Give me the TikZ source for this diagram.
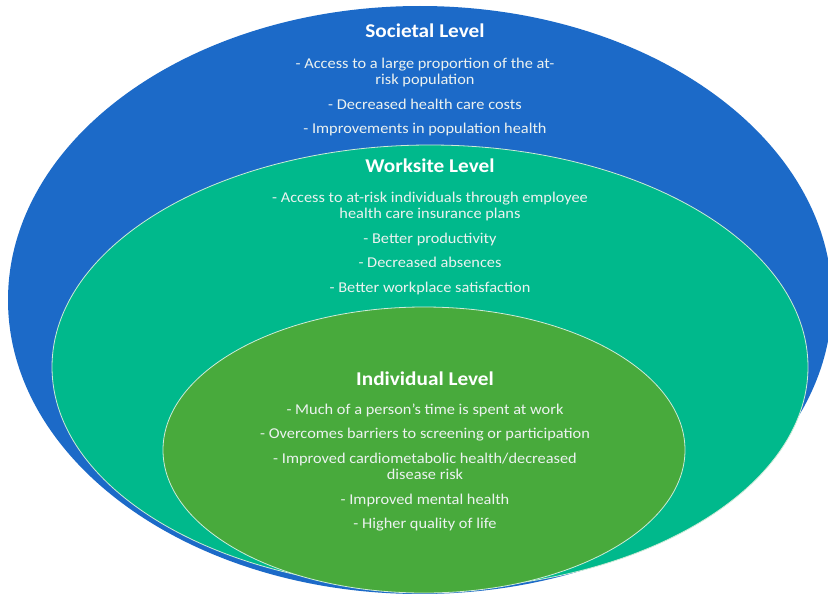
\documentclass[tikz,border=0pt]{standalone}
\usepackage{fontspec}
\setmainfont{Carlito}[FakeStretch=1.09]
\usetikzlibrary{positioning}

\definecolor{societal}{RGB}{28,106,200}
\definecolor{worksite}{RGB}{0,185,140}
\definecolor{individual}{RGB}{72,170,60}
\definecolor{rim}{RGB}{205,235,215}
\definecolor{itemtext}{RGB}{236,242,240}

\begin{document}
\begin{tikzpicture}[x=1pt, y=-1pt,
    level/.style = {inner sep=0pt, text=white, font=\fontsize{19.5}{23}\selectfont\bfseries},
    items/.style = {inner sep=0pt, align=center, text=itemtext, font=\fontsize{15}{16.5}\selectfont}]
    \useasboundingbox (0,0) rectangle (828,594);
    \fill[white] (0,0) rectangle (828,594);

    % the three nested levels
    \fill[societal] (420,300) ellipse [x radius=412, y radius=294];
    \filldraw[fill=worksite, draw=rim, line width=0.8pt] (430,367) ellipse [x radius=378, y radius=222];
    \filldraw[fill=individual, draw=rim, line width=0.8pt] (424,450) ellipse [x radius=261, y radius=143];

    \node[level] (st) at (425,31) {Societal Level};
    \node[items] (sl) [below=19.5pt of st] {- Access to a large proportion of the at-\\
        risk population\\[8pt]
        - Decreased health care costs\\[8pt]
        - Improvements in population health};

    \node[level] (wt) at (430,166) {Worksite Level};
    \node[items] (wl) [below=18.5pt of wt] {- Access to at-risk individuals through employee\\
        health care insurance plans\\[8pt]
        - Better productivity\\[8pt]
        - Decreased absences\\[8pt]
        - Better workplace satisfaction};

    \node[level] (it) at (425,379) {Individual Level};
    \node[items] (il) [below=17.5pt of it] {- Much of a person’s time is spent at work\\[8pt]
        - Overcomes barriers to screening or participation\\[8pt]
        - Improved cardiometabolic health/decreased\\
        disease risk\\[8pt]
        - Improved mental health\\[8pt]
        - Higher quality of life};
\end{tikzpicture}
\end{document}
